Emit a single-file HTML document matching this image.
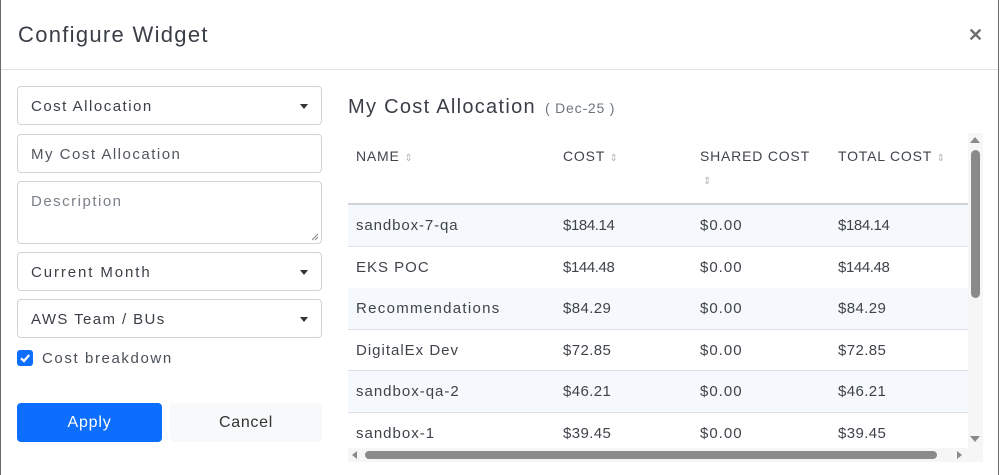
<!DOCTYPE html>
<html><head><meta charset="utf-8"><style>
*{box-sizing:border-box;margin:0;padding:0}
html,body{width:1000px;height:475px;overflow:hidden;background:#fff}
body{font-family:"Liberation Sans",sans-serif;color:#3a3f47;position:relative}
.a{position:absolute}
.frameL{left:0;top:0;width:1px;height:475px;background:#6b6b6b}
.frameR{left:998px;top:0;width:1px;height:475px;background:#6b6b6b}
.title{left:18px;top:22px;font-size:22px;letter-spacing:1.3px;color:#3a3f47}
.close{left:968px;top:25px;font-size:18px;font-weight:bold;color:#6f6f6f}
.hdiv{left:1px;top:69px;width:997px;height:1px;background:#dee2e6}
.box{border:1px solid #ced4da;border-radius:4px;background:#fff}
.ft{font-size:15px;letter-spacing:1.5px;color:#3a3f47}
.caret{width:0;height:0;border-left:4.5px solid transparent;border-right:4.5px solid transparent;border-top:5px solid #333}
.tbl{font-size:15px;letter-spacing:1px;color:#3f444b}
.n{letter-spacing:0.4px}
.n1{letter-spacing:-0.4px}
.n0{letter-spacing:1px}
.th{font-size:14px;letter-spacing:0.8px;color:#3f444b}
.sort{font-size:10px;color:#b5b9bf;letter-spacing:0}
.row{left:348px;width:620px;height:42px;border-bottom:1px solid #dcdfe3}
.alt{background:#f5f8fd}
</style></head><body>
<div class="a frameL"></div>
<div class="a frameR"></div>
<div class="a title">Configure Widget</div>
<div class="a close">✕</div>
<div class="a hdiv"></div>

<!-- left form -->
<div class="a box" style="left:17px;top:86px;width:305px;height:39px"></div>
<div class="a ft" style="left:31px;top:98px">Cost Allocation</div>
<div class="a caret" style="left:300px;top:104px"></div>

<div class="a box" style="left:17px;top:134px;width:305px;height:39px"></div>
<div class="a ft" style="left:31px;top:146px;color:#50565e">My Cost Allocation</div>

<div class="a box" style="left:17px;top:181px;width:305px;height:63px"></div>
<div class="a ft" style="left:31px;top:193px;color:#7b8189">Description</div>
<svg class="a" style="left:311px;top:233px" width="8" height="8"><path d="M1 7 L7 1 M4 7 L7 4" stroke="#888" stroke-width="1"/></svg>

<div class="a box" style="left:17px;top:252px;width:305px;height:39px"></div>
<div class="a ft" style="left:31px;top:264px;letter-spacing:1.9px">Current Month</div>
<div class="a caret" style="left:300px;top:270px"></div>

<div class="a box" style="left:17px;top:299px;width:305px;height:39px"></div>
<div class="a ft" style="left:31px;top:311px;letter-spacing:1.4px">AWS Team / BUs</div>
<div class="a caret" style="left:300px;top:317px"></div>

<div class="a" style="left:17px;top:350px;width:16px;height:16px;background:#0d6efd;border-radius:3px"></div>
<svg class="a" style="left:17px;top:350px" width="16" height="16"><path d="M4 8.3 L7 11 L12.2 5" stroke="#fff" stroke-width="2.2" fill="none"/></svg>
<div class="a ft" style="left:42px;top:350px;color:#4a5058;letter-spacing:1.6px">Cost breakdown</div>

<div class="a" style="left:17px;top:403px;width:145px;height:39px;background:#0d6efd;border-radius:4px;color:#fff;font-size:16px;letter-spacing:0.8px;text-align:center;line-height:40px">Apply</div>
<div class="a" style="left:170px;top:403px;width:152px;height:39px;background:#f8f9fa;border-radius:4px;color:#333;font-size:16px;letter-spacing:0.7px;text-align:center;line-height:40px">Cancel</div>

<!-- right -->
<div class="a" style="left:348px;top:96px;font-size:20px;letter-spacing:1.3px;color:#3a3f47">My Cost Allocation</div>
<div class="a" style="left:545px;top:100px;font-size:14px;letter-spacing:0.8px;color:#6c757d">( Dec-25 )</div>

<!-- header -->
<div class="a th" style="left:356px;top:148px">NAME <span class="sort">⇕</span></div>
<div class="a th" style="left:563px;top:148px">COST <span class="sort">⇕</span></div>
<div class="a th" style="left:700px;top:148px">SHARED COST</div>
<div class="a sort" style="left:703px;top:176px">⇕</div>
<div class="a th" style="left:838px;top:148px">TOTAL COST <span class="sort">⇕</span></div>
<div class="a" style="left:348px;top:203px;width:620px;height:2px;background:#cfd3d8"></div>

<div class="a row alt" style="top:205px"></div>
<div class="a row" style="top:247px"></div>
<div class="a row alt" style="top:288px"></div>
<div class="a row" style="top:329px"></div>
<div class="a row alt" style="top:371px"></div>
<div class="a row" style="top:412px;border-bottom:none"></div>

<div class="a tbl" style="left:356px;top:217px;letter-spacing:0.9px">sandbox-7-qa</div>
<div class="a tbl n1" style="left:563px;top:217px">$184.14</div>
<div class="a tbl n0" style="left:700px;top:217px">$0.00</div>
<div class="a tbl n1" style="left:838px;top:217px">$184.14</div>

<div class="a tbl" style="left:356px;top:259px">EKS POC</div>
<div class="a tbl n1" style="left:563px;top:259px">$144.48</div>
<div class="a tbl n0" style="left:700px;top:259px">$0.00</div>
<div class="a tbl n1" style="left:838px;top:259px">$144.48</div>

<div class="a tbl" style="left:356px;top:300px;letter-spacing:1.3px">Recommendations</div>
<div class="a tbl n" style="left:563px;top:300px">$84.29</div>
<div class="a tbl n0" style="left:700px;top:300px">$0.00</div>
<div class="a tbl n" style="left:838px;top:300px">$84.29</div>

<div class="a tbl" style="left:356px;top:342px">DigitalEx Dev</div>
<div class="a tbl n" style="left:563px;top:342px">$72.85</div>
<div class="a tbl n0" style="left:700px;top:342px">$0.00</div>
<div class="a tbl n" style="left:838px;top:342px">$72.85</div>

<div class="a tbl" style="left:356px;top:383px">sandbox-qa-2</div>
<div class="a tbl n" style="left:563px;top:383px">$46.21</div>
<div class="a tbl n0" style="left:700px;top:383px">$0.00</div>
<div class="a tbl n" style="left:838px;top:383px">$46.21</div>

<div class="a tbl" style="left:356px;top:425px">sandbox-1</div>
<div class="a tbl n" style="left:563px;top:425px">$39.45</div>
<div class="a tbl n0" style="left:700px;top:425px">$0.00</div>
<div class="a tbl n" style="left:838px;top:425px">$39.45</div>

<!-- vertical scrollbar -->
<div class="a" style="left:968px;top:133px;width:15px;height:315px;background:#f6f6f6"></div>
<div class="a" style="left:970px;top:137px;width:0;height:0;border-left:5px solid transparent;border-right:5px solid transparent;border-bottom:6px solid #8a8a8a"></div>
<div class="a" style="left:971px;top:150px;width:9px;height:148px;background:#8a8a8a;border-radius:5px"></div>
<div class="a" style="left:970px;top:436px;width:0;height:0;border-left:5px solid transparent;border-right:5px solid transparent;border-top:6px solid #8a8a8a"></div>

<!-- horizontal scrollbar -->
<div class="a" style="left:348px;top:448px;width:620px;height:14px;background:#f6f6f6"></div>
<div class="a" style="left:352px;top:451px;width:0;height:0;border-top:4px solid transparent;border-bottom:4px solid transparent;border-right:5px solid #8a8a8a"></div>
<div class="a" style="left:365px;top:451px;width:572px;height:8px;background:#8a8a8a;border-radius:4px"></div>
<div class="a" style="left:957px;top:451px;width:0;height:0;border-top:4px solid transparent;border-bottom:4px solid transparent;border-left:5px solid #8a8a8a"></div>
<div class="a" style="left:968px;top:448px;width:15px;height:14px;background:#f6f6f6"></div>
</body></html>
